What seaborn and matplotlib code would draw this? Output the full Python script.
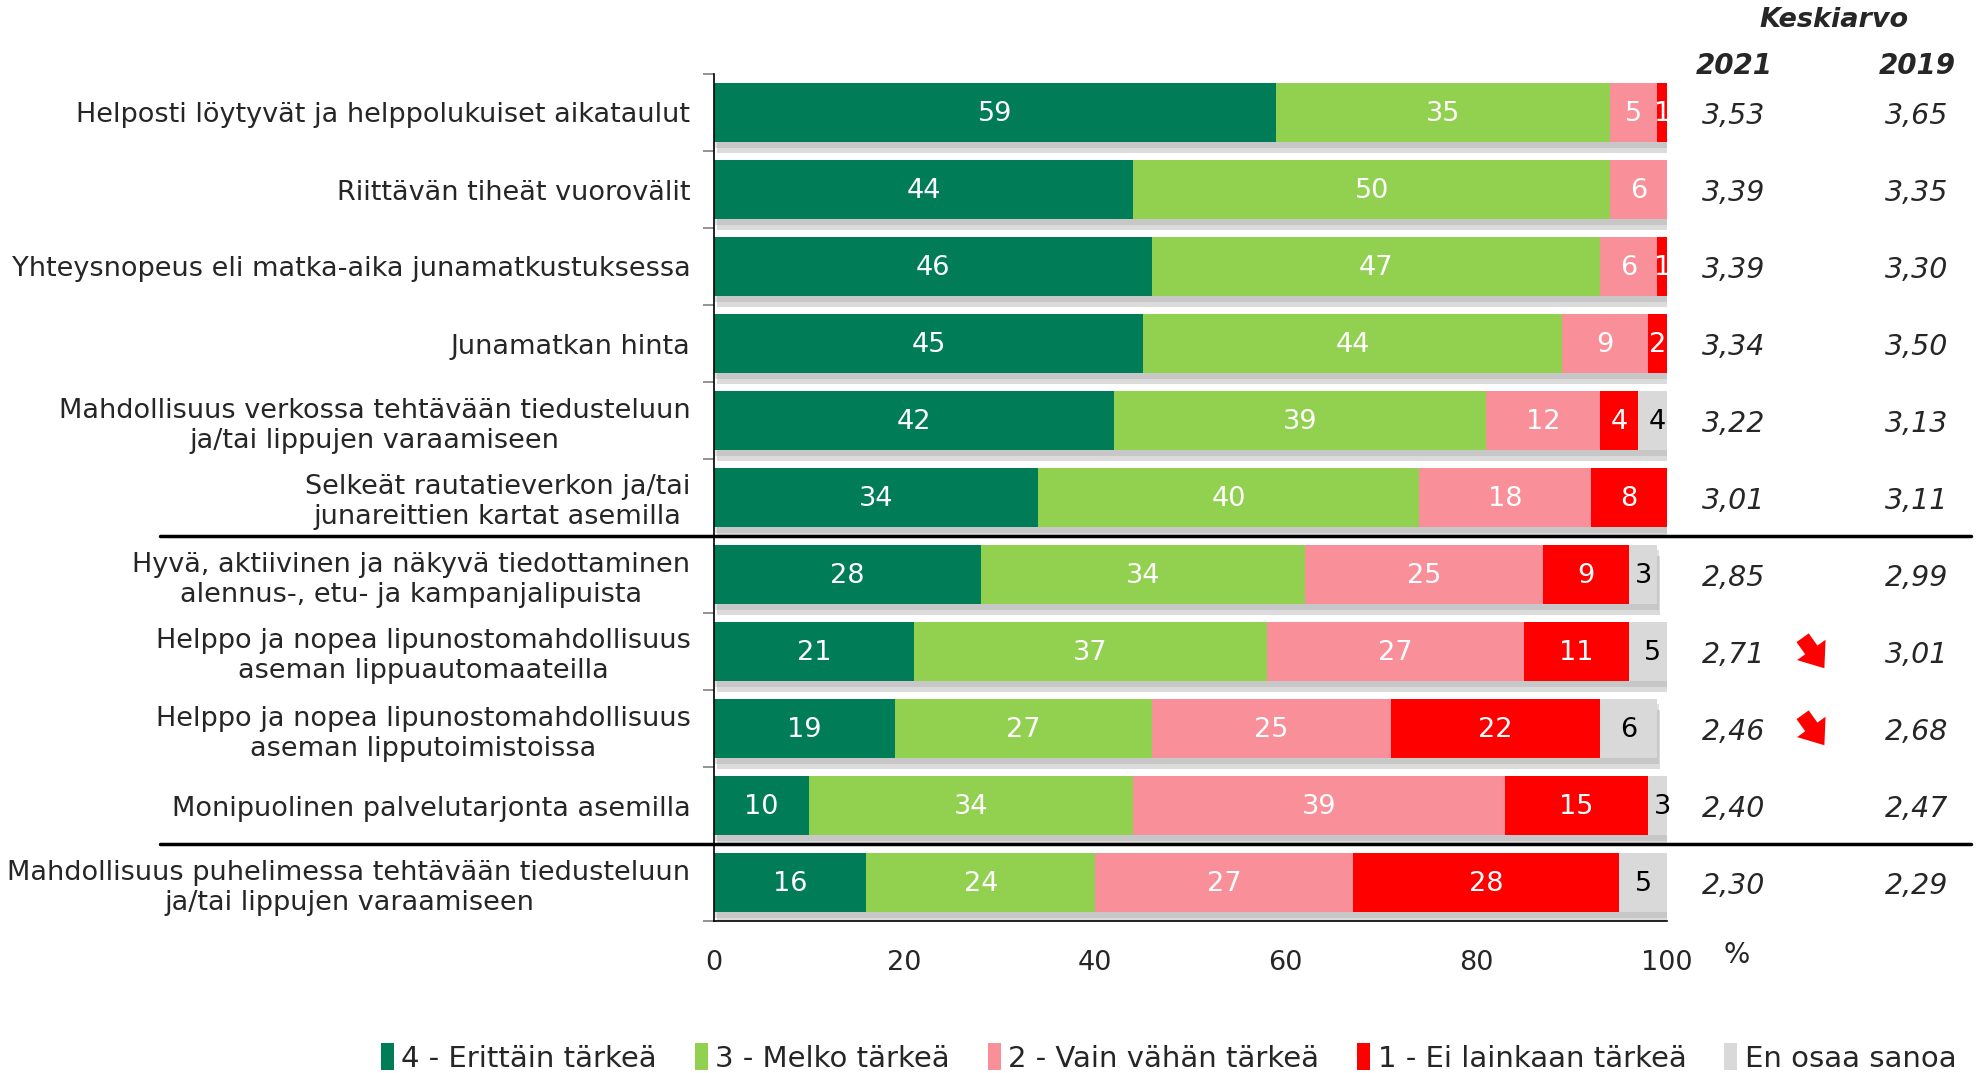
import numpy as np
import pandas as pd
import matplotlib
matplotlib.use('Agg')
import matplotlib.pyplot as plt
import seaborn as sns
from matplotlib import patheffects as pe
from matplotlib.transforms import blended_transform_factory
from matplotlib.lines import Line2D
from matplotlib.patches import Patch, FancyArrowPatch

categories = [
    "Helposti löytyvät ja helppolukuiset aikataulut",
    "Riittävän tiheät vuorovälit",
    "Yhteysnopeus eli matka-aika junamatkustuksessa",
    "Junamatkan hinta",
    "Mahdollisuus verkossa tehtävään tiedusteluun\nja/tai lippujen varaamiseen",
    "Selkeät rautatieverkon ja/tai\njunareittien kartat asemilla",
    "Hyvä, aktiivinen ja näkyvä tiedottaminen\nalennus-, etu- ja kampanjalipuista",
    "Helppo ja nopea lipunostomahdollisuus\naseman lippuautomaateilla",
    "Helppo ja nopea lipunostomahdollisuus\naseman lipputoimistoissa",
    "Monipuolinen palvelutarjonta asemilla",
    "Mahdollisuus puhelimessa tehtävään tiedusteluun\nja/tai lippujen varaamiseen",
]
erittain = [59, 44, 46, 45, 42, 34, 28, 21, 19, 10, 16]
melko = [35, 50, 47, 44, 39, 40, 34, 37, 27, 34, 24]
vahan = [5, 6, 6, 9, 12, 18, 25, 27, 25, 39, 27]
ei_lainkaan = [1, 0, 1, 2, 4, 8, 9, 11, 22, 15, 28]
eos = [0, 0, 0, 0, 4, 0, 3, 5, 6, 3, 5]
mean_2021 = ["3,53", "3,39", "3,39", "3,34", "3,22", "3,01", "2,85", "2,71", "2,46", "2,40", "2,30"]
mean_2019 = ["3,65", "3,35", "3,30", "3,50", "3,13", "3,11", "2,99", "3,01", "2,68", "2,47", "2,29"]
arrow_down = [False, False, False, False, False, False, False, True, True, False, False]
series_names = ["4 - Erittäin tärkeä", "3 - Melko tärkeä", "2 - Vain vähän tärkeä",
                "1 - Ei lainkaan tärkeä", "En osaa sanoa"]
xticks = [0, 20, 40, 60, 80, 100]

colors = ["#007D57", "#92D050", "#F98F99", "#FF0000", "#D9D9D9"]
text_colors = ["white", "white", "white", "white", "black"]

sns.set_theme(style="white")
plt.rcParams['font.family'] = ['DejaVu Sans']

W, H = 1979, 1073
fig = plt.figure(figsize=(W / 100, H / 100), dpi=100)
ax = fig.add_axes([714 / W, 1 - 921 / H, (1667 - 714) / W, (921 - 74) / H])

series = [erittain, melko, vahan, ei_lainkaan, eos]
vals = np.array(series, dtype=float)
cum = np.cumsum(vals, axis=0)

for i in range(len(series) - 1, -1, -1):
    df = pd.DataFrame({"cat": categories, "val": cum[i]})
    n_before = len(ax.patches)
    sns.barplot(data=df, x="val", y="cat", order=categories, orient="h",
                color=colors[i], saturation=1, width=0.77, linewidth=0,
                edgecolor="none", ax=ax, errorbar=None)
    if i == len(series) - 1:
        for p in ax.patches[n_before:]:
            p.set_path_effects([pe.SimplePatchShadow(offset=(2, -8), shadow_rgbFace="#9a9a9a", alpha=0.35),
                                pe.SimplePatchShadow(offset=(1, -4), shadow_rgbFace="#9a9a9a", alpha=0.3),
                                pe.Normal()])

for i in range(len(series)):
    for r in range(len(categories)):
        v = vals[i, r]
        if v > 0:
            ax.text(cum[i, r] - v / 2, r + 0.02, f"{int(v)}", ha="center", va="center",
                    color=text_colors[i], fontsize=19.5)

ax.set_xlim(0, 100)
ax.set_ylim(10.5, -0.5)
ax.set_xticks(xticks)
ax.set_xticklabels([str(t) for t in xticks], fontsize=19.5)
ax.set_xlabel("")
ax.set_ylabel("")
ax.tick_params(axis="x", direction="out", length=9, width=1, color="black", pad=12)
ax.tick_params(axis="y", length=0, pad=17, labelsize=19.5)
for lbl in ax.get_yticklabels():
    lbl.set_multialignment("center")
ax.set_yticks(np.arange(-0.5, 11, 1), minor=True)
ax.tick_params(axis="y", which="minor", direction="out", length=8, width=1.2, color="#808080", left=True)
for s in ["top", "right"]:
    ax.spines[s].set_visible(False)
for s in ["left", "bottom"]:
    ax.spines[s].set_color("black")
    ax.spines[s].set_linewidth(1.2)

fig.text(1737 / W, 1 - 955 / H, "%", fontsize=20, ha="center", va="center")

tr = blended_transform_factory(fig.transFigure, ax.transData)
for yy in [5.5, 9.5]:
    fig.add_artist(Line2D([160 / W, 1971 / W], [yy, yy], transform=tr, color="black", lw=2.5, clip_on=False))

x21, x19 = 1734 / W, 1917 / W
for r in range(len(categories)):
    fig.text(x21, r + 0.05, mean_2021[r], transform=tr, ha="center", va="center", fontsize=20.5, style="italic")
    fig.text(x19, r + 0.05, mean_2019[r], transform=tr, ha="center", va="center", fontsize=20.5, style="italic")
fig.text(x21, 1 - 66 / H, "2021", ha="center", va="center", fontsize=20, style="italic", weight="bold")
fig.text(x19, 1 - 66 / H, "2019", ha="center", va="center", fontsize=20, style="italic", weight="bold")
fig.text(1834 / W, 1 - 20 / H, "Keskiarvo", ha="center", va="center", fontsize=19.5, style="italic", weight="bold")

for r in range(len(categories)):
    if arrow_down[r]:
        yd = ax.transData.transform((0, r))[1]
        start = (1801, yd + 16)
        end = (1826, yd - 19)
        arr = FancyArrowPatch(start, end, transform=None,
                              arrowstyle="simple,head_width=1.4,head_length=0.9,tail_width=0.6",
                              mutation_scale=18, color="#FF0000", lw=0)
        fig.add_artist(arr)

handles = [Patch(facecolor=c, edgecolor="none") for c in colors]
leg = fig.legend(handles, series_names, loc="center", bbox_to_anchor=(926 / 1568, 1 - 1058 / H),
                 ncol=5, frameon=False, handlelength=0.45, handleheight=1.0, handletextpad=0.25,
                 columnspacing=1.3, prop={"size": 21})

fig.savefig("out.png", dpi=100)
